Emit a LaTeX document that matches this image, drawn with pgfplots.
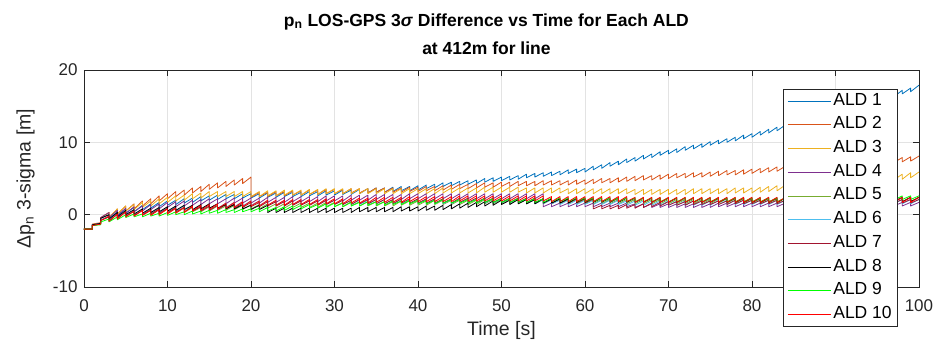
\documentclass[border=0pt]{standalone}
\usepackage{fontspec}
\setmainfont{Liberation Sans}
\usepackage{pgfplots}
\usepackage{pgfplotstable}
\pgfplotsset{compat=1.18}
\definecolor{c1}{HTML}{0072BD}
\definecolor{c2}{HTML}{D95319}
\definecolor{c3}{HTML}{EDB120}
\definecolor{c4}{HTML}{7E2F8E}
\definecolor{c5}{HTML}{77AC30}
\definecolor{c6}{HTML}{4DBEEE}
\definecolor{c7}{HTML}{A2142F}
\definecolor{c8}{HTML}{000000}
\definecolor{c9}{HTML}{00FF00}
\definecolor{c10}{HTML}{FF0000}
\definecolor{axgray}{HTML}{262626}
\definecolor{gridgray}{HTML}{E3E3E3}

\pgfplotstableread{
t a1 a2 a3 a4 a5 a6 a7 a8 a9 a10
0 -2 -2 -2 -2 -2 -2 -2 -2 -2 -2
1 -2 -2 -2 -2 -2 -2 -2 -2 -2 -2
1 -1.4 -1.3 -1.4 -1.4 -1.5 -1.4 -1.5 -1.4 -1.5 -1.5
2 -1.2 -1.1 -1.2 -1.2 -1.3 -1.2 -1.3 -1.2 -1.4 -1.3
2 -0.5 -0.4 -0.5 -0.4 -0.8 -0.7 -0.8 -0.5 -1.0 -0.8
3 0.0 0.3 0.3 0.3 -0.3 -0.2 -0.3 0.0 -0.6 -0.2
3 -0.6 -0.4 -0.4 -0.4 -0.9 -0.8 -0.9 -0.6 -1.0 -0.9
4 0.4 0.8 0.8 0.6 0.1 0.2 0.1 0.3 -0.3 0.1
4 -0.2 0.1 0.1 -0.1 -0.5 -0.4 -0.5 -0.3 -0.7 -0.6
5 0.8 1.2 1.2 0.9 0.4 0.5 0.4 0.6 0.0 0.4
5 0.2 0.5 0.5 0.2 -0.2 -0.1 -0.2 0.0 -0.4 -0.3
6 1.0 1.5 1.4 1.1 0.5 0.6 0.5 0.7 0.1 0.5
6 0.4 0.8 0.7 0.4 -0.1 0.0 -0.1 0.1 -0.3 -0.2
7 1.3 1.9 1.7 1.2 0.6 0.7 0.6 0.8 0.1 0.6
7 0.7 1.2 1.0 0.5 0.0 0.1 0.0 0.2 -0.3 -0.1
8 1.5 2.2 1.9 1.4 0.6 0.8 0.7 0.9 0.2 0.6
8 0.9 1.5 1.2 0.7 0.0 0.2 0.1 0.3 -0.2 -0.1
9 1.7 2.6 2.2 1.5 0.7 0.9 0.8 1.0 0.2 0.7
9 1.1 1.9 1.5 0.8 0.1 0.3 0.2 0.4 -0.2 0.0
10 1.9 2.9 2.4 1.7 0.8 1.0 0.9 1.1 0.3 0.8
10 1.3 2.2 1.7 1.0 0.2 0.4 0.3 0.5 -0.1 0.1
11 2.0 3.2 2.6 1.8 0.9 1.1 1.0 1.2 0.4 0.9
11 1.4 2.5 1.9 1.1 0.3 0.5 0.4 0.6 0.0 0.2
12 2.2 3.4 2.7 1.9 0.9 1.2 1.0 1.3 0.4 1.0
12 1.6 2.7 2.0 1.2 0.3 0.6 0.4 0.7 0.0 0.3
13 2.3 3.7 2.9 2.0 1.0 1.2 1.1 1.3 0.5 1.2
13 1.7 3.0 2.2 1.3 0.4 0.6 0.5 0.7 0.1 0.5
14 2.5 3.9 3.0 2.1 1.0 1.3 1.1 1.4 0.5 1.3
14 1.9 3.2 2.3 1.4 0.4 0.7 0.5 0.8 0.1 0.6
15 2.6 4.2 3.2 2.2 1.1 1.4 1.2 1.5 0.6 1.4
15 2.0 3.5 2.5 1.5 0.5 0.8 0.6 0.9 0.2 0.7
16 2.7 4.4 3.2 2.2 1.2 1.5 1.3 1.5 0.6 1.5
16 2.1 3.7 2.5 1.5 0.6 0.9 0.7 0.9 0.2 0.8
17 2.8 4.6 3.2 2.2 1.2 1.6 1.4 1.4 0.7 1.6
17 2.2 3.9 2.5 1.5 0.6 1.0 0.8 0.8 0.3 0.9
18 2.8 4.8 3.2 2.3 1.3 1.7 1.5 1.4 0.7 1.7
18 2.2 4.1 2.5 1.6 0.7 1.1 0.9 0.8 0.3 1.0
19 2.9 5.0 3.2 2.3 1.3 1.8 1.6 1.4 0.8 1.8
19 2.3 4.3 2.5 1.6 0.7 1.2 1.0 0.8 0.4 1.1
20 2.9 5.2 3.2 2.3 1.4 1.9 1.7 1.3 0.8 1.9
20 2.3 2.4 2.5 1.6 0.8 1.3 1.1 0.7 0.4 1.2
21 2.9 3.1 3.2 2.3 1.4 1.9 1.7 1.3 0.9 1.9
21 2.3 2.5 2.5 1.6 0.8 1.3 1.1 0.7 0.4 1.2
22 3.0 3.1 3.3 2.4 1.5 1.9 1.8 1.3 1.0 2.0
22 2.4 2.5 2.6 1.7 0.9 1.3 1.2 0.3 0.5 1.3
23 3.0 3.2 3.3 2.4 1.5 1.9 1.8 0.9 1.0 2.0
23 2.4 2.6 2.6 1.7 0.9 1.3 1.2 0.3 0.5 1.3
24 3.1 3.2 3.4 2.4 1.5 1.9 1.8 0.9 1.1 2.0
24 2.5 2.6 2.7 1.7 0.9 1.3 1.2 0.3 0.6 1.3
25 3.1 3.3 3.4 2.5 1.6 2.0 1.9 0.9 1.2 2.1
25 2.5 2.7 2.7 1.8 1.0 1.4 1.3 0.3 0.7 1.4
26 3.1 3.3 3.4 2.5 1.6 2.0 1.9 0.9 1.3 2.1
26 2.5 2.7 2.7 1.8 1.0 1.4 1.3 0.3 0.8 1.4
27 3.2 3.4 3.5 2.5 1.6 2.0 1.9 0.9 1.4 2.1
27 2.6 2.8 2.8 1.8 1.0 1.4 1.3 0.3 0.9 1.4
28 3.2 3.4 3.5 2.5 1.6 2.0 1.9 0.9 1.4 2.1
28 2.6 2.8 2.8 1.8 1.0 1.4 1.3 0.3 0.9 1.4
29 3.3 3.5 3.6 2.6 1.7 2.0 2.0 0.9 1.5 2.2
29 2.7 2.9 2.9 1.9 1.1 1.4 1.4 0.3 1.0 1.5
30 3.3 3.5 3.6 2.6 1.7 2.0 2.0 0.9 1.6 2.2
30 2.7 2.9 2.9 1.9 1.1 1.4 1.4 0.3 1.1 1.5
31 3.4 3.5 3.6 2.6 1.7 2.0 2.0 0.9 1.6 2.2
31 2.8 2.9 2.9 1.9 1.1 1.4 1.4 0.3 1.1 1.5
32 3.4 3.6 3.6 2.7 1.8 2.0 2.0 0.9 1.7 2.3
32 2.8 3.0 2.9 2.0 1.2 1.4 1.4 0.3 1.2 1.6
33 3.5 3.6 3.6 2.7 1.8 2.0 2.1 1.0 1.7 2.3
33 2.9 3.0 2.9 2.0 1.2 1.4 1.5 0.4 1.2 1.6
34 3.6 3.6 3.6 2.7 1.8 2.0 2.1 1.0 1.8 2.3
34 3.0 3.0 2.9 2.0 1.2 1.4 1.5 0.4 1.3 1.6
35 3.7 3.7 3.6 2.8 1.8 2.1 2.1 1.0 1.8 2.4
35 3.1 3.1 2.9 2.1 1.2 1.5 1.5 0.4 1.3 1.7
36 3.7 3.7 3.6 2.8 1.8 2.1 2.1 1.0 1.8 2.4
36 3.1 3.1 2.9 2.1 1.2 1.5 1.5 0.4 1.3 1.7
37 3.8 3.7 3.6 2.8 1.8 2.1 2.1 1.0 1.9 2.4
37 3.2 3.1 2.9 2.1 1.2 1.5 1.5 0.4 1.4 1.7
38 3.9 3.7 3.6 2.8 1.9 2.1 2.2 1.1 1.9 2.4
38 3.3 3.1 2.9 2.1 1.3 1.5 1.6 0.5 1.4 1.7
39 3.9 3.8 3.6 2.9 1.9 2.1 2.2 1.1 2.0 2.5
39 3.3 3.2 2.9 2.2 1.3 1.5 1.6 0.5 1.5 1.8
40 4.0 3.8 3.6 2.9 1.9 2.1 2.2 1.1 2.0 2.5
40 3.4 3.2 2.9 2.2 1.3 1.5 1.6 0.5 1.5 1.8
41 4.1 3.9 3.6 2.9 1.9 2.1 2.2 1.2 2.0 2.5
41 3.6 3.3 2.9 2.2 1.3 1.5 1.6 0.6 1.5 1.8
42 4.2 3.9 3.6 2.9 2.0 2.1 2.2 1.2 2.0 2.5
42 3.7 3.3 2.9 2.2 1.4 1.5 1.6 0.6 1.5 1.8
43 4.4 4.0 3.7 2.9 2.0 2.1 2.2 1.3 2.1 2.5
43 3.9 3.4 3.0 2.2 1.4 1.5 1.6 0.7 1.6 1.8
44 4.5 4.1 3.7 2.9 2.0 2.1 2.2 1.4 2.1 2.5
44 4.0 3.5 3.0 2.2 1.4 1.5 1.6 0.8 1.6 1.8
45 4.6 4.2 3.7 2.9 2.0 2.2 2.3 1.5 2.1 2.6
45 4.1 3.6 3.0 2.2 1.4 1.6 1.7 0.9 1.6 1.9
46 4.7 4.2 3.7 2.9 2.0 2.2 2.3 1.6 2.1 2.6
46 4.2 3.6 3.0 2.2 1.4 1.6 1.7 1.0 1.6 1.9
47 4.8 4.3 3.7 2.9 2.0 2.2 2.3 1.7 2.1 2.6
47 4.3 3.7 3.0 2.2 1.4 1.6 1.7 1.1 1.6 1.9
48 5.0 4.4 3.8 2.9 2.1 2.2 2.3 1.8 2.2 2.6
48 4.5 3.8 3.1 2.2 1.5 1.6 1.7 1.2 1.7 1.9
49 5.1 4.4 3.8 2.9 2.1 2.2 2.3 1.9 2.2 2.6
49 4.6 3.8 3.1 2.2 1.5 1.6 1.7 1.3 1.7 1.9
50 5.2 4.5 3.8 2.9 2.1 2.2 2.3 2.0 2.2 2.6
50 4.7 3.9 3.1 2.2 1.5 1.6 1.7 1.4 1.7 1.9
51 5.3 4.5 3.8 2.9 2.1 2.2 2.3 2.0 2.2 2.6
51 4.8 3.9 3.1 2.2 1.5 1.6 1.7 1.4 1.7 1.9
52 5.4 4.6 3.8 2.9 2.1 2.2 2.3 2.1 2.2 2.6
52 4.9 4.0 3.1 2.2 1.5 1.6 1.7 1.5 1.7 1.9
53 5.6 4.6 3.7 2.9 2.1 2.1 2.3 2.1 2.2 2.6
53 5.1 4.0 3.0 2.2 1.5 1.5 1.7 1.5 1.7 1.9
54 5.7 4.6 3.7 2.9 2.1 2.1 2.3 2.1 2.2 2.6
54 5.2 4.0 3.0 2.2 1.5 1.5 1.7 1.5 1.7 1.9
55 5.8 4.7 3.7 2.9 2.1 2.1 2.2 2.2 2.2 2.6
55 5.3 4.1 3.0 1.1 1.5 1.5 1.6 1.6 1.7 1.9
56 5.9 4.7 3.7 1.6 2.1 2.1 2.2 2.2 2.3 2.5
56 5.4 4.1 3.0 1.1 1.5 1.5 1.6 1.6 1.8 1.8
57 6.0 4.7 3.7 1.6 2.1 2.0 2.2 2.2 2.3 2.5
57 5.5 4.1 3.0 1.1 1.5 1.4 1.6 1.6 1.8 1.8
58 6.2 4.7 3.6 1.6 2.1 2.0 2.2 2.2 2.3 2.5
58 5.7 4.1 2.9 1.1 1.5 1.4 1.6 1.6 1.8 1.8
59 6.3 4.8 3.6 1.6 2.1 2.0 2.2 2.3 2.3 2.5
59 5.8 4.2 2.9 1.1 1.5 1.4 1.6 1.7 1.8 1.8
60 6.4 4.8 3.6 1.6 2.1 2.0 2.2 2.3 2.3 2.5
60 5.9 4.2 2.9 1.1 1.5 1.4 1.6 1.7 1.8 1.8
61 6.7 4.9 3.6 1.6 2.1 2.0 2.2 2.3 2.3 2.5
61 6.2 4.3 2.9 1.1 1.5 1.4 0.8 1.7 1.8 1.8
62 6.9 5.0 3.6 1.6 2.1 2.0 1.3 2.3 2.3 2.5
62 6.4 4.4 2.9 1.1 1.5 1.4 0.8 1.7 1.8 1.8
63 7.2 5.0 3.6 1.6 2.1 2.0 1.3 2.3 2.3 2.5
63 6.7 4.4 2.9 1.1 1.5 1.4 0.8 1.7 1.8 1.8
64 7.4 5.1 3.6 1.6 2.1 2.0 1.3 2.3 2.3 2.5
64 6.9 4.5 2.9 1.1 1.5 1.4 0.8 1.7 1.8 1.8
65 7.7 5.2 3.6 1.6 2.1 1.9 1.4 2.3 2.3 2.5
65 7.2 4.6 2.9 1.1 1.5 1.3 0.9 1.7 1.8 1.8
66 7.9 5.3 3.5 1.5 2.1 1.9 1.4 2.3 2.3 2.4
66 7.4 4.7 2.8 1.0 1.5 1.3 0.9 1.7 1.8 1.7
67 8.2 5.4 3.5 1.5 2.1 1.9 1.5 2.3 2.3 2.4
67 7.7 4.8 2.8 1.0 1.5 1.3 1.0 1.7 1.8 1.7
68 8.4 5.4 3.5 1.5 2.1 1.9 1.6 2.3 2.3 2.4
68 7.9 4.8 2.8 1.0 1.5 1.3 1.1 1.7 1.8 1.7
69 8.7 5.5 3.5 1.5 2.1 1.9 1.7 2.3 2.3 2.4
69 8.2 4.9 2.8 1.0 1.5 1.3 1.2 1.7 1.8 1.7
70 8.9 5.6 3.5 1.5 2.1 1.9 1.8 2.3 2.3 2.4
70 8.4 5.0 2.8 1.0 1.5 1.3 1.3 1.7 1.8 1.7
71 9.1 5.7 3.5 1.5 2.1 1.9 1.8 2.3 2.3 2.4
71 8.6 5.1 2.8 1.0 1.5 1.3 1.3 1.7 1.8 1.7
72 9.4 5.7 3.5 1.5 2.1 1.9 1.8 2.3 2.3 2.4
72 8.9 5.1 2.8 1.0 1.5 1.3 1.3 1.7 1.8 1.7
73 9.6 5.8 3.6 1.5 2.1 1.9 1.9 2.3 2.3 2.4
73 9.1 5.2 2.9 1.0 1.5 1.3 1.4 1.7 1.8 1.7
74 9.8 5.8 3.6 1.5 2.1 1.9 1.9 2.3 2.3 2.4
74 9.3 5.2 2.9 1.0 1.5 1.3 1.4 1.7 1.8 1.7
75 10.1 5.9 3.6 1.5 2.1 1.9 1.9 2.3 2.3 2.4
75 9.6 5.3 2.9 1.0 1.5 1.3 1.4 1.7 1.8 1.7
76 10.3 6.0 3.6 1.6 2.2 2.0 1.9 2.3 2.3 2.4
76 9.8 5.4 2.9 1.1 1.6 1.4 1.4 1.7 1.8 1.7
77 10.5 6.1 3.6 1.6 2.2 2.0 1.9 2.3 2.3 2.4
77 10.0 5.5 2.9 1.1 1.6 1.4 1.4 1.7 1.8 1.7
78 10.7 6.1 3.7 1.6 2.2 2.0 2.0 2.3 2.3 2.4
78 10.2 5.5 3.0 1.1 1.6 1.4 1.5 1.7 1.8 1.7
79 11.0 6.2 3.7 1.6 2.2 2.0 2.0 2.3 2.3 2.4
79 10.5 5.6 3.0 1.1 1.6 1.4 1.5 1.7 1.8 1.7
80 11.2 6.3 3.7 1.6 2.2 2.0 2.0 2.3 2.3 2.4
80 10.7 5.7 3.0 1.1 1.6 1.4 1.5 1.7 1.8 1.7
81 11.5 6.4 3.8 1.6 2.2 2.0 2.0 2.3 2.3 2.4
81 11.0 5.8 3.1 1.1 1.6 1.4 1.5 1.7 1.8 1.7
82 11.8 6.5 3.9 1.6 2.2 2.0 2.0 2.3 2.3 2.4
82 11.3 5.9 3.2 1.1 1.6 1.4 1.5 1.7 1.8 1.7
83 12.1 6.6 4.0 1.6 2.2 2.0 2.0 2.3 2.3 2.4
83 11.6 6.0 3.3 1.1 1.6 1.4 1.5 1.7 1.8 1.7
84 12.4 6.7 4.1 1.6 2.3 2.0 2.0 2.3 2.3 2.4
84 11.9 6.1 3.4 1.1 1.7 1.4 1.5 1.7 1.8 1.7
85 12.7 6.8 4.2 1.6 2.3 2.0 2.0 2.3 2.3 2.4
85 12.2 6.2 3.5 1.1 1.7 1.4 1.5 1.7 1.8 1.7
86 13.0 6.8 4.2 1.6 2.3 2.0 2.0 2.3 2.3 2.4
86 12.5 6.2 3.5 1.1 1.7 1.4 1.5 1.7 1.8 1.7
87 13.3 6.9 4.3 1.6 2.3 2.0 2.0 2.3 2.3 2.4
87 12.8 6.3 3.6 1.1 1.7 1.4 1.5 1.7 1.8 1.7
88 13.6 7.0 4.4 1.6 2.3 2.0 2.0 2.3 2.3 2.4
88 13.1 6.4 3.7 1.1 1.7 1.4 1.5 1.7 1.8 1.7
89 13.9 7.1 4.5 1.6 2.3 2.0 2.0 2.3 2.3 2.4
89 13.4 6.5 3.8 1.1 1.7 1.4 1.5 1.7 1.8 1.7
90 14.2 7.2 4.6 1.6 2.3 2.0 2.0 2.3 2.3 2.4
90 13.7 6.6 3.9 1.1 1.7 1.4 1.5 1.7 1.8 1.7
91 14.6 7.3 4.7 1.7 2.3 2.1 2.1 2.4 2.4 2.4
91 14.1 6.7 4.0 1.2 1.7 1.5 1.6 1.8 1.9 1.7
92 14.9 7.4 4.9 1.7 2.3 2.1 2.1 2.4 2.4 2.4
92 14.4 6.8 4.2 1.2 1.7 1.5 1.6 1.8 1.9 1.7
93 15.3 7.5 5.0 1.7 2.3 2.1 2.1 2.4 2.4 2.4
93 14.8 6.9 4.3 1.2 1.7 1.5 1.6 1.8 1.9 1.7
94 15.7 7.6 5.1 1.7 2.3 2.1 2.1 2.4 2.5 2.4
94 15.2 7.0 4.4 1.2 1.7 1.5 1.6 1.8 2.0 1.7
95 16.1 7.7 5.3 1.7 2.4 2.1 2.1 2.4 2.5 2.4
95 15.6 7.1 4.6 1.2 1.8 1.5 1.6 1.8 2.0 1.7
96 16.4 7.7 5.4 1.7 2.4 2.1 2.1 2.4 2.5 2.4
96 15.9 7.1 4.7 1.2 1.8 1.5 1.6 1.8 2.0 1.7
97 16.8 7.8 5.5 1.7 2.4 2.1 2.1 2.4 2.5 2.4
97 16.3 7.2 4.8 1.2 1.8 1.5 1.6 1.8 2.0 1.7
98 17.2 7.9 5.6 1.7 2.4 2.1 2.1 2.4 2.6 2.4
98 16.7 7.3 4.9 1.2 1.8 1.5 1.6 1.8 2.1 1.7
99 17.5 8.0 5.8 1.7 2.4 2.1 2.1 2.4 2.6 2.4
99 17.0 7.4 5.1 1.2 1.8 1.5 1.6 1.8 2.1 1.7
100 17.9 8.1 5.9 1.7 2.4 2.1 2.1 2.4 2.6 2.4
}\data

\begin{document}
\begin{tikzpicture}
\begin{axis}[
  scale only axis, width=835pt, height=217pt,
  xmin=0, xmax=100, ymin=-10, ymax=20,
  xtick={0,10,...,100}, ytick={-10,0,10,20},
  grid=major, major grid style={gridgray, line width=0.6pt},
  axis line style={axgray, line width=0.6pt},
  tick style={axgray, line width=0.6pt},
  tick align=inside, tick pos=both, major tick length=6pt,
  ticklabel style={font=\fontsize{17}{17}\selectfont, text=axgray},
  xticklabel style={yshift=-9pt},
  yticklabel style={xshift=-3pt},
  /pgf/number format/assume math mode=true,
  xlabel={Time [s]},
  ylabel={Δp\textsubscript{n} 3-sigma [m]},
  label style={font=\fontsize{19.5}{19.5}\selectfont, text=axgray},
  xlabel style={at={(axis description cs:0.5,-0.2)}, anchor=center},
  ylabel style={at={(axis description cs:-0.07,0.5)}, anchor=center},
  title={p\textsubscript{n} LOS-GPS 3\textit{σ} Difference vs Time for Each ALD\\at 412m for line},
  title style={align=center, font=\bfseries\fontsize{17.5}{28}\selectfont, text=black,
    at={(axis description cs:0.482,1)}, anchor=south, yshift=6pt},
  no markers,
  every axis plot/.append style={line width=0.8pt, line join=round},
  legend style={at={(axis description cs:0.9749,0.9124)}, anchor=north east,
    draw=axgray, line width=0.6pt, fill=white, font=\fontsize{17.5}{17.5}\selectfont,
    inner xsep=4pt, inner ysep=3.3pt, row sep=6.7pt,
    nodes={inner xsep=2pt, inner ysep=0pt, text height=12.5pt, text depth=4.5pt, text=black}},
  legend cell align=left,
  legend image code/.code={\draw[#1] (0pt,0pt) -- (43pt,0pt);},
]
\addplot[c1] table[x=t, y=a1]{\data};
\addplot[c2] table[x=t, y=a2]{\data};
\addplot[c3] table[x=t, y=a3]{\data};
\addplot[c4] table[x=t, y=a4]{\data};
\addplot[c5] table[x=t, y=a5]{\data};
\addplot[c6] table[x=t, y=a6]{\data};
\addplot[c7] table[x=t, y=a7]{\data};
\addplot[c8] table[x=t, y=a8]{\data};
\addplot[c9] table[x=t, y=a9]{\data};
\addplot[c10] table[x=t, y=a10]{\data};
\legend{ALD 1, ALD 2, ALD 3, ALD 4, ALD 5, ALD 6, ALD 7, ALD 8, ALD 9, ALD 10}
\coordinate (bbsw) at (rel axis cs:-0.1006,-0.2949);
\coordinate (bbne) at (rel axis cs:1.0216,1.3226);
\end{axis}
\pgfresetboundingbox
\path[use as bounding box] (bbsw) rectangle (bbne);
\end{tikzpicture}
\end{document}
